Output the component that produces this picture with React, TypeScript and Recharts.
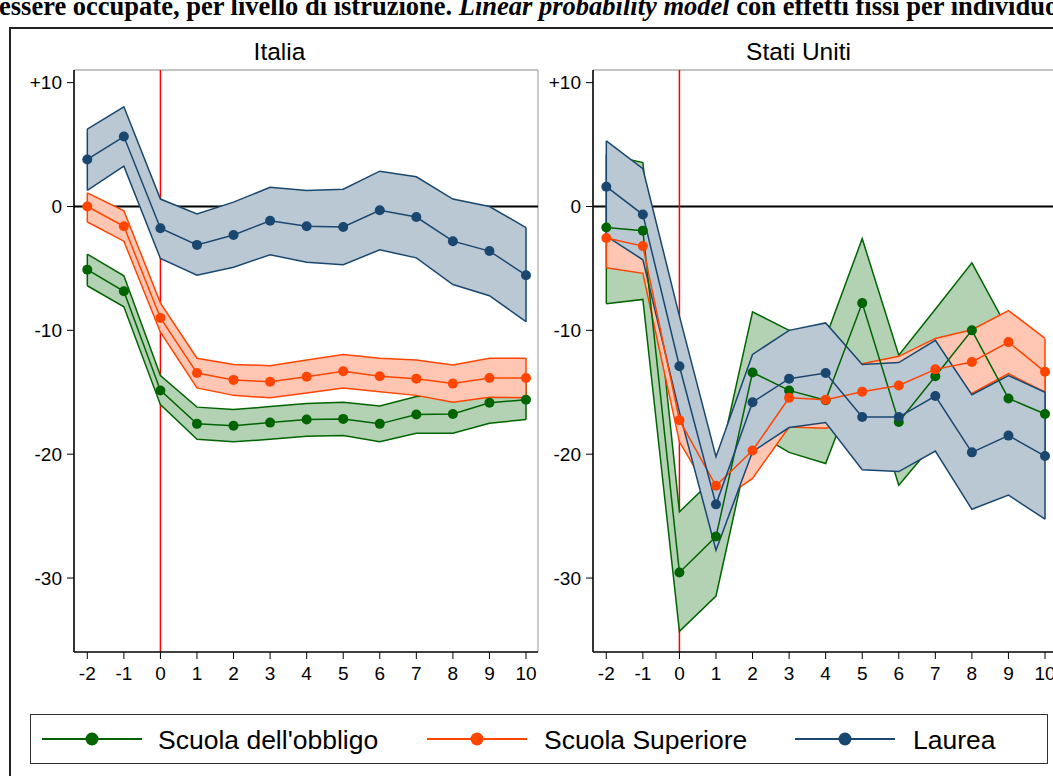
import React from 'react';
import { ComposedChart, XAxis, YAxis, Area, Line, ReferenceLine } from 'recharts';

// event time (years from job loss)
const years = [-2, -1, 0, 1, 2, 3, 4, 5, 6, 7, 8, 9, 10];
const yTicks = [10, 0, -10, -20, -30];

// Italia
const itObbligo = [-5.1, -6.85, -14.85, -17.55, -17.7, -17.45, -17.2, -17.15, -17.55, -16.8, -16.75, -15.85, -15.6];
const itObbligoLo = [-6.4, -8.1, -16.0, -18.8, -19.0, -18.8, -18.55, -18.5, -19.0, -18.3, -18.3, -17.5, -17.2];
const itObbligoHi = [-3.85, -5.6, -13.65, -16.2, -16.4, -16.15, -15.9, -15.8, -16.1, -15.35, -15.2, -14.5, -14.0];
const itSup = [0, -1.6, -9.0, -13.45, -14.0, -14.15, -13.75, -13.3, -13.7, -13.9, -14.3, -13.85, -13.85];
const itSupLo = [-1.25, -2.8, -10.15, -14.65, -15.25, -15.45, -15.05, -14.65, -14.95, -15.25, -15.8, -15.4, -15.45];
const itSupHi = [1.1, -0.35, -7.8, -12.25, -12.75, -12.85, -12.4, -11.95, -12.25, -12.4, -12.8, -12.25, -12.25];
const itLau = [3.8, 5.65, -1.75, -3.1, -2.3, -1.15, -1.6, -1.65, -0.3, -0.85, -2.8, -3.6, -5.55];
const itLauLo = [1.3, 3.25, -4.2, -5.55, -4.9, -3.9, -4.5, -4.7, -3.5, -4.15, -6.3, -7.2, -9.3];
const itLauHi = [6.25, 8.05, 0.6, -0.6, 0.35, 1.55, 1.3, 1.4, 2.85, 2.4, 0.6, 0, -1.7];

// Stati Uniti
const usObbligo = [-1.7, -1.95, -29.55, -26.65, -13.4, -14.85, -15.65, -7.8, -17.4, -13.7, -10.0, -15.5, -16.75];
const usObbligoLo = [-7.85, -7.5, -34.3, -31.45, -18.1, -19.85, -20.75, -13.0, -22.5, -19.0, -15.4, -21.0, -20.0];
const usObbligoHi = [4.2, 3.55, -24.65, -21.8, -8.5, -10.0, -10.6, -2.6, -12.0, -8.3, -4.55, -10.0, -13.5];
const usSup = [-2.55, -3.2, -17.25, -22.55, -19.7, -15.45, -15.6, -14.95, -14.45, -13.15, -12.55, -10.95, -13.35];
const usSupLo = [-4.95, -5.4, -19.0, -24.0, -21.95, -17.8, -17.9, -17.25, -16.8, -15.7, -15.1, -13.5, -15.0];
const usSupHi = [-0.1, -0.95, -15.1, -20.9, -17.45, -13.0, -13.3, -12.7, -12.1, -10.65, -9.95, -8.4, -10.65];
const usLau = [1.6, -0.65, -12.9, -24.05, -15.8, -13.9, -13.45, -17.0, -17.0, -15.3, -19.85, -18.5, -20.15];
const usLauLo = [-2.4, -4.3, -16.6, -27.75, -19.8, -17.85, -17.45, -21.25, -21.4, -19.75, -24.45, -23.3, -25.25];
const usLauHi = [5.3, 3.05, -8.85, -20.2, -11.95, -10.0, -9.4, -12.75, -12.6, -10.8, -15.2, -13.65, -15.0];

const X_MIN = -2.364;
const X_MAX = 10.328;
const Y_MIN = -35.97;
const Y_MAX = 11.02;

const series = [
  { key: 'obb', name: "Scuola dell'obbligo", color: '#006400', fill: '#b3d1b3' },
  { key: 'sup', name: 'Scuola Superiore', color: '#ff4500', fill: '#ffc7b3' },
  { key: 'lau', name: 'Laurea', color: '#1a476f', fill: '#bac8d4' },
];

type Triple = [number[], number[], number[]];

const buildRows = (obb: Triple, sup: Triple, lau: Triple) =>
  years.map((x, i) => ({
    x,
    obb: obb[0][i],
    obbBand: [obb[1][i], obb[2][i]],
    sup: sup[0][i],
    supBand: [sup[1][i], sup[2][i]],
    lau: lau[0][i],
    lauBand: [lau[1][i], lau[2][i]],
  }));

const itRows = buildRows([itObbligo, itObbligoLo, itObbligoHi], [itSup, itSupLo, itSupHi], [itLau, itLauLo, itLauHi]);
const usRows = buildRows([usObbligo, usObbligoLo, usObbligoHi], [usSup, usSupLo, usSupHi], [usLau, usLauLo, usLauHi]);

const FONT = '"Liberation Sans", Arial, Helvetica, sans-serif';

const Panel = ({ title, rows, left }: { title: string; rows: any[]; left: number }) => {
  const first = rows[0];
  const last = rows[rows.length - 1];
  return (
    <div style={{ position: 'absolute', left, top: 0, width: 545, height: 700 }}>
      <div
        style={{
          position: 'absolute', left: 7, top: 40, width: 545, textAlign: 'center',
          fontFamily: FONT, fontSize: 24.5, lineHeight: '24.5px', color: '#000',
        }}
      >
        {title}
      </div>
      <ComposedChart width={545} height={700} data={rows} margin={{ top: 70, right: 7, bottom: 0, left: 0 }}>
        <XAxis
          dataKey="x" type="number" domain={[X_MIN, X_MAX]} ticks={years} allowDataOverflow interval={0}
          height={48} tickSize={7} tickMargin={8}
          axisLine={{ stroke: '#000', strokeWidth: 1.6 }} tickLine={{ stroke: '#000' }}
          tick={{ fill: '#000', fontSize: 19, fontFamily: FONT }}
        />
        <YAxis
          type="number" domain={[Y_MIN, Y_MAX]} ticks={yTicks} allowDataOverflow interval={0}
          width={74} tickSize={7} tickMargin={5}
          axisLine={{ stroke: '#000', strokeWidth: 1.6 }} tickLine={{ stroke: '#000' }}
          tick={{ fill: '#000', fontSize: 19, fontFamily: FONT }}
          tickFormatter={(v: number) => (v > 0 ? `+${v}` : `${v}`)}
        />
        <ReferenceLine y={Y_MAX} stroke="#8a8a8a" strokeWidth={1.2} zIndex={50} />
        <ReferenceLine x={X_MAX} stroke="#a8a8a8" strokeWidth={1.2} zIndex={50} />
        <ReferenceLine y={0} stroke="#000" strokeWidth={2} zIndex={50} />
        <ReferenceLine x={0} stroke="#ff0000" strokeWidth={1.5} zIndex={50} />
        {series.map((s) => [
          <Area
            key={s.key + 'band'} dataKey={s.key + 'Band'} type="linear" stroke={s.color} strokeWidth={1.5}
            fill={s.fill} fillOpacity={1} dot={false} activeDot={false} isAnimationActive={false} zIndex={100}
          />,
          <Line
            key={s.key + 'capL'} data={[{ x: first.x, cap: first[s.key + 'Band'][0] }, { x: first.x, cap: first[s.key + 'Band'][1] }]}
            dataKey="cap" stroke={s.color} strokeWidth={1.5} dot={false} activeDot={false} isAnimationActive={false} zIndex={100}
          />,
          <Line
            key={s.key + 'capR'} data={[{ x: last.x, cap: last[s.key + 'Band'][0] }, { x: last.x, cap: last[s.key + 'Band'][1] }]}
            dataKey="cap" stroke={s.color} strokeWidth={1.5} dot={false} activeDot={false} isAnimationActive={false} zIndex={100}
          />,
        ])}
        {series.map((s) => (
          <Line
            key={s.key + 'line'} dataKey={s.key} type="linear" stroke={s.color} strokeWidth={1.5}
            dot={{ r: 5, fill: s.color, stroke: s.color, strokeWidth: 0 }} activeDot={false}
            isAnimationActive={false} zIndex={400}
          />
        ))}
      </ComposedChart>
    </div>
  );
};

const legendItems = [
  { x: 42, text: 158 },
  { x: 427, text: 544 },
  { x: 795, text: 913 },
];

export default function App() {
  return (
    <div style={{ position: 'absolute', left: 0, top: 0, width: 1053, height: 776, overflow: 'hidden', background: '#fff' }}>
      <div
        style={{
          position: 'absolute', left: -1, top: -7, whiteSpace: 'nowrap', fontFamily: '"Liberation Serif", "Times New Roman", serif',
          fontWeight: 'bold', fontSize: 26.5, lineHeight: '26.5px', color: '#000',
        }}
      >
        essere occupate, per livello di istruzione. <i>Linear probability model</i> con effetti fissi per individuo
      </div>
      <div
        style={{
          position: 'absolute', left: 9, top: 27, width: 2000, height: 2000,
          borderLeft: '2px solid #222', borderTop: '2px solid #222',
        }}
      />
      <Panel title="Italia" rows={itRows} left={0} />
      <Panel title="Stati Uniti" rows={usRows} left={519} />
      <div
        style={{
          position: 'absolute', left: 30, top: 714, width: 1018, height: 50, boxSizing: 'border-box',
          border: '1.5px solid #333',
        }}
      />
      {series.map((s, i) => (
        <React.Fragment key={s.key}>
          <svg style={{ position: 'absolute', left: legendItems[i].x, top: 729 }} width={100} height={20}>
            <line x1={0} y1={10} x2={100} y2={10} stroke={s.color} strokeWidth={2} />
            <circle cx={50} cy={10} r={6.5} fill={s.color} />
          </svg>
          <div
            style={{
              position: 'absolute', left: legendItems[i].text, top: 727, whiteSpace: 'nowrap',
              fontFamily: FONT, fontSize: 26.5, lineHeight: '26.5px', color: '#000',
            }}
          >
            {s.name}
          </div>
        </React.Fragment>
      ))}
    </div>
  );
}
